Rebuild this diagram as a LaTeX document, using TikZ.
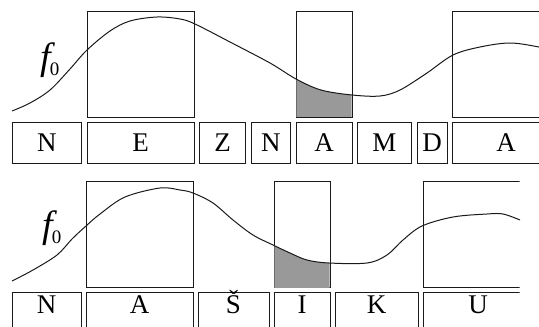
\documentclass[tikz,border=0pt]{standalone}
\usepackage{fontspec}
\setmainfont{Liberation Serif}
\usetikzlibrary{positioning}
\definecolor{inkline}{HTML}{1A1A1A}
\definecolor{nucleusgray}{HTML}{999999}

\tikzset{
  letterbox/.style={draw=inkline, line width=.8pt, inner sep=0pt, outer sep=0pt,
    minimum height=41pt, text height=17.5pt, text depth=0pt, font=\fontsize{27}{27}\selectfont},
  lowletterbox/.style={letterbox, minimum height=0pt, inner ysep=4pt, text depth=24pt},
  nucleusbox/.style={draw=inkline, line width=.8pt, inner sep=0pt, outer sep=0pt, minimum height=106pt},
  contour/.style={draw=inkline, line width=1pt},
  flabel/.style={anchor=base west, inner sep=0pt, font=\fontsize{38}{38}\selectfont\itshape},
  topcontour/.style={insert path={plot[smooth, tension=.55] coordinates {(12,111) (30,103) (50,90) (70,69)
    (87,50) (110,31) (130,21) (157,17) (180,19) (195,24) (230,42) (270,63) (296,79) (321,90) (352,95)
    (380,96) (400,90) (427,73) (453,55) (480,47) (510,43) (539,47) (560,52)}}},
  lowcontour/.style={insert path={plot[smooth, tension=.55] coordinates {(12,281) (33,270) (57,255) (72,239)
    (86,226) (100,214) (125,197) (160,188) (180,190) (193,193) (213,203) (233,220) (253,235) (273,245)
    (290,253) (307,260) (329,263) (367,263) (387,255) (403,240) (422,226) (453,217) (487,214) (503,214) (520,220)}}},
}

\begin{document}
\begin{tikzpicture}[x=1pt, y=-1pt]
\useasboundingbox (0,0) rectangle (539,327);
\clip (0,0) rectangle (539,327);

% upper word: NEZNAMDA
\node[letterbox, minimum width=69.5pt, anchor=north west] (n1) at (12,122) {N};
\node[letterbox, minimum width=107pt, right=5.5pt of n1] (e1) {E};
\node[letterbox, minimum width=46pt, right=5.5pt of e1] (z1) {Z};
\node[letterbox, minimum width=39.5pt, right=5.5pt of z1] (n2) {N};
\node[letterbox, minimum width=56pt, right=5.5pt of n2] (a1) {A};
\node[letterbox, minimum width=54pt, right=5.5pt of a1] (m1) {M};
\node[letterbox, minimum width=30pt, right=5.5pt of m1] (d1) {D};
\node[letterbox, minimum width=107pt, right=5.5pt of d1] (a2) {A};

\node[nucleusbox, minimum width=107pt, above=5pt of e1] (e1n) {};
\node[nucleusbox, minimum width=56pt, above=5pt of a1] (a1n) {};
\node[nucleusbox, minimum width=107pt, above=5pt of a2] (a2n) {};

\begin{scope}
  \clip ([shift={(.4pt,.4pt)}]a1n.south west) rectangle ([shift={(-.4pt,-.4pt)}]a1n.north east);
  \fill[nucleusgray] [topcontour] -- (560,140) -- (0,140) -- cycle;
\end{scope}
\draw[contour] [topcontour];
\node[flabel] (ftop) at (40,69) {f\kern-1pt\raisebox{-6pt}{\fontsize{19}{19}\selectfont\upshape 0}};

% lower word: NAŠIKU
\begin{scope}
\clip (0,165) rectangle (519.5,327);
\node[lowletterbox, minimum width=69pt, anchor=north west] (n3) at (12,292) {N};
\node[lowletterbox, minimum width=107pt, right=5pt of n3] (a3) {A};
\node[lowletterbox, minimum width=71pt, right=5pt of a3] (s1) {Š};
\node[lowletterbox, minimum width=56pt, right=5pt of s1] (i1) {I};
\node[lowletterbox, minimum width=83pt, right=5pt of i1] (k1) {K};
\node[lowletterbox, minimum width=110pt, right=5pt of k1] (u1) {U};

\node[nucleusbox, minimum width=107pt, above=4.5pt of a3] (a3n) {};
\node[nucleusbox, minimum width=56pt, above=4.5pt of i1] (i1n) {};
\node[nucleusbox, minimum width=110pt, above=4.5pt of u1] (u1n) {};
\end{scope}

\begin{scope}
  \clip ([shift={(.4pt,.4pt)}]i1n.south west) rectangle ([shift={(-.4pt,-.4pt)}]i1n.north east);
  \fill[nucleusgray] [lowcontour] -- (560,310) -- (0,310) -- cycle;
\end{scope}
\draw[contour] [lowcontour];
\node[flabel] (flow) at (42,237) {f\kern-1pt\raisebox{-6pt}{\fontsize{19}{19}\selectfont\upshape 0}};
\end{tikzpicture}
\end{document}
